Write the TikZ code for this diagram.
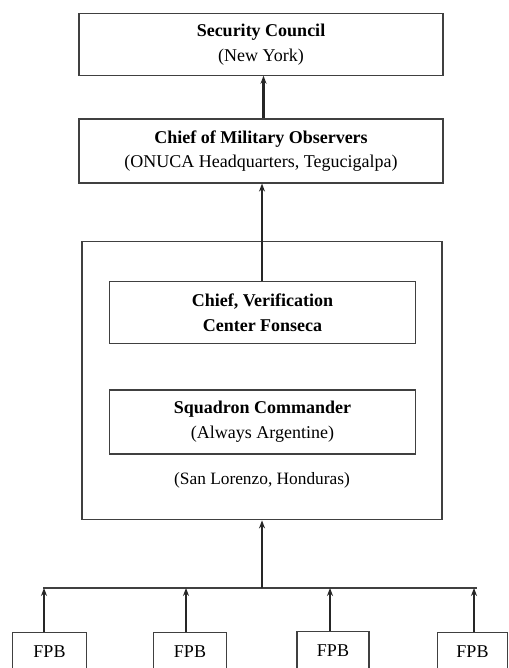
\documentclass[tikz,border=0pt]{standalone}
\usepackage{fontspec}
\setmainfont{Liberation Serif}
\usetikzlibrary{arrows.meta}
\begin{document}
\begin{tikzpicture}[x=0.75pt,y=-0.75pt,
  box/.style={draw=black!75,line width=0.85pt,inner sep=0pt,align=center,
    font=\fontsize{13.5}{18.5}\selectfont},
  lbl/.style={inner sep=0pt,font=\fontsize{13.5}{16}\selectfont},
  thick arrow/.style={draw=black!85,line width=1.6pt,-{Stealth[length=6pt,width=4.5pt]}},
  thin line/.style={draw=black!75,line width=0.8pt}]
\useasboundingbox (0,0) rectangle (509,668);
\clip (0,0) rectangle (509,668);
\fill[white] (0,0) rectangle (509,668);
% top boxes
\node[box,minimum width=273pt,minimum height=46pt] (sc) at (261,44.5)
  {\textbf{Security Council}\\(New York)};
\node[box,minimum width=273pt,minimum height=48pt] (cmo) at (261,151)
  {\textbf{Chief of Military Observers}\\(ONUCA Headquarters, Tegucigalpa)};
% large box
\node[box,minimum width=270pt,minimum height=209pt] (big) at (262,380.5) {};
\node[box,minimum width=229pt,minimum height=46pt] (cvc) at (262.5,312.5)
  {\textbf{Chief, Verification}\\\textbf{Center Fonseca}};
\node[box,minimum width=229pt,minimum height=48pt] (sqc) at (262.5,422)
  {\textbf{Squadron Commander}\\(Always Argentine)};
\node[lbl,font=\fontsize{13}{15}\selectfont] (loc) at (262,480) {(San Lorenzo, Honduras)};
% FPB boxes
\node[box,minimum width=56pt,minimum height=60pt,anchor=north] (f1) at (49.5,632) {};
\node[box,minimum width=55pt,minimum height=60pt,anchor=north] (f2) at (190,632) {};
\node[box,minimum width=54pt,minimum height=60pt,anchor=north] (f3) at (333,631) {};
\node[box,minimum width=53pt,minimum height=60pt,anchor=north] (f4) at (472.5,632) {};
\node[lbl] (t1) at (49.5,652) {FPB};
\node[lbl] (t2) at (190,652) {FPB};
\node[lbl] (t3) at (333,651) {FPB};
\node[lbl] (t4) at (472.5,652) {FPB};
% bus
\coordinate (busL) at (43,588);
\coordinate (busR) at (477,588);
\coordinate (busM) at (262,588);
\draw[thin line] (busL) -- (busR);
% connectors
\draw[thick arrow] (cmo.north -| 263.5,0) -- (sc.south -| 263.5,0);
\draw[thick arrow] (cvc.north -| 262,0) -- (cmo.south -| 262,0);
\draw[thick arrow] (busM) -- (big.south -| busM);
\draw[thick arrow] (f1.north -| 44,0) -- (busL -| 44,0);
\draw[thick arrow] (f2.north -| 186,0) -- (busL -| 186,0);
\draw[thick arrow] (f3.north -| 330,0) -- (busL -| 330,0);
\draw[thick arrow] (f4.north -| 474,0) -- (busL -| 474,0);
\end{tikzpicture}
\end{document}
